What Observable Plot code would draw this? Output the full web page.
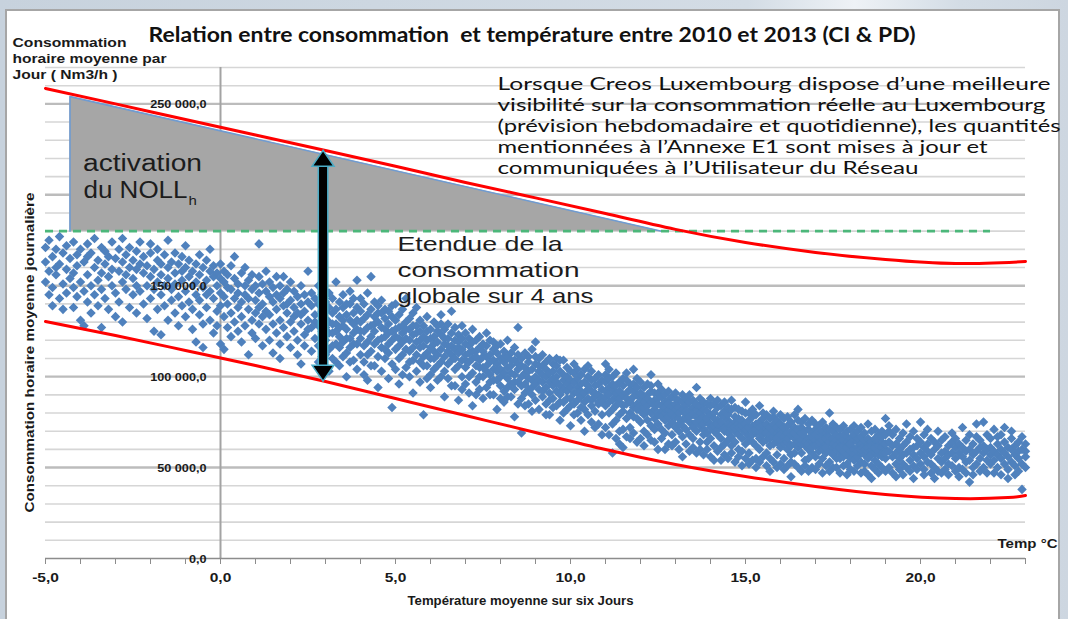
<!DOCTYPE html>
<html><head><meta charset="utf-8">
<script src="https://cdn.jsdelivr.net/npm/d3@7"></script>
<script src="https://cdn.jsdelivr.net/npm/@observablehq/plot@0.6"></script>
<style>
html,body{margin:0;padding:0;background:#fff;}
#wrap{position:relative;width:1068px;height:619px;overflow:hidden;background:linear-gradient(90deg,#c7d2dd 0%,#d3dce5 70%,#eef2f6 80%,#d3dce5 90%,#cdd6e0 100%);}
#box{position:absolute;left:5px;top:9px;width:1051px;height:620px;border:2px solid #a6a6a6;border-bottom:none;background:#fff;}
#chart{position:absolute;left:0;top:0;}
</style></head><body>
<div id="wrap"><div id="box"></div><div id="chart"></div></div>
<script>
// Daily points: [temperature °C, consumption values in thousand Nm3/h ...]
const cloudRows = [
[-5.0,171,152,163],[-4.9,175,158,145],[-4.8,166,149,139],[-4.7,170,156,160],[-4.6,177,162,143],
[-4.5,151,168,137],[-4.4,159,146,172],[-4.3,165,154],[-4.2,174,138,157,149],[-4.1,161,167,144],
[-4.0,170,152,131],[-3.9,163,147,128],[-3.8,156,173,141,166],[-3.7,168,150,135],[-3.6,160,176,145],
[-3.5,153,164,139],[-3.4,171,157,127,148],[-3.3,162,143,169],[-3.2,155,166,137],[-3.1,174,150,159],
[-3.0,165,146,133],[-2.9,158,170,141],[-2.8,152,163,130,176],[-2.7,167,148,156],[-2.6,160,138,171],
[-2.5,154,164,145],[-2.4,169,150,135,159],[-2.3,162,147,174],[-2.2,157,166,140],[-2.1,150,161,132],
[-2.0,168,155,143,173],[-1.9,159,148,125],[-1.8,164,152,137,170],[-1.7,156,145,123,162],[-1.6,167,150,139],
[-1.5,160,154,131,175],[-1.4,148,163,142],[-1.3,157,135,168,151],[-1.2,162,144,128],[-1.1,153,166,139,158],
[-1.0,147,160,133,172],[-0.9,155,141,164],[-0.8,150,126,158,137],[-0.7,162,145,152,119],[-0.6,156,134,167,142],
[-0.5,149,160,129,116],[-0.4,153,138,164,145],[-0.3,158,131,147,170],[-0.2,143,155,124,161],[-0.1,150,136,157,128],
[0.0,146,162,118,139,154],[0.1,152,133,158,115,144],[0.2,140,156,127,149],[0.3,148,135,161,122],[0.4,143,154,130,166],
[0.5,151,138,125,146],[0.6,157,141,133,119],[0.7,145,150,128,160],[0.8,137,153,112,143],[0.9,148,131,156,124],
[1.0,142,150,135,121],[1.1,173,146,129,138,155],[1.2,140,151,117,133],[1.3,147,126,158,136],[1.4,134,144,120,152],
[1.5,141,129,149,113],[1.6,137,155,124,145],[1.7,131,143,110,150,118],[1.8,146,127,139,155],[1.9,135,148,122,140],
[2.0,130,142,116,152],[2.1,138,125,147,133],[2.2,144,120,135,112],[2.3,129,140,107,150,134],[2.4,136,123,145,117],
[2.5,158,131,141,126],[2.6,127,139,114,146],[2.7,134,121,143,130],[2.8,140,117,128,150,108],[2.9,125,136,111,145],
[3.0,132,120,141,127,112,136],[3.1,138,115,130,146,103,124],[3.2,124,135,110,143,129,117],[3.3,152,129,118,137,108,125],
[3.4,133,122,141,106,127,116],[3.5,119,138,128,145,111,131],[3.6,126,113,134,100,140,121],[3.7,131,121,140,116,147,108],
[3.8,124,135,109,129,143,118],[3.9,153,118,138,126,104,131],[4.0,130,112,136,121,143,125],[4.1,125,140,108,132,117,101],
[4.2,119,134,127,146,98,112],[4.3,155,128,114,137,122,106],[4.4,133,106,125,141,118,129],[4.5,120,130,111,139,94,135],
[4.6,127,116,135,103,142,121],[4.7,122,132,110,126,137,115],[4.8,118,129,99,136,113,124],[4.9,125,107,133,83,120,139],
[5.0,131,115,122,140,104,126],[5.1,117,127,96,134,110,121],[5.2,124,112,137,119,128,101],[5.3,130,105,121,143,115,126],
[5.4,114,126,100,132,120,108],[5.5,123,109,135,116,91,128],[5.6,119,128,112,138,103,124],[5.7,125,97,116,131,108,120],
[5.8,111,122,79,128,117,106],[5.9,120,106,133,113,125,99],[6.0,116,126,101,121,94,110],[6.1,122,110,130,114,118,104],
[6.2,112,125,98,119,106,128],[6.3,129,115,108,123,134,100],[6.4,118,103,126,111,89,121],[6.5,114,121,99,129,107,117],
[6.6,136,117,109,124,112,95],[6.7,110,120,95,127,104,115],[6.8,116,106,123,87,113,119],[6.9,121,100,115,128,109,93],
[7.0,112,118,96,124,105,109],[7.1,108,117,91,121,113,100],[7.2,119,102,110,126,84,114],[7.3,114,97,120,106,111,90],
[7.4,105,116,93,122,109,100],[7.5,111,100,118,88,114,105],[7.6,117,106,94,124,103,111],[7.7,101,112,120,97,108,90],
[7.8,109,115,90,104,119,98],[7.9,113,98,107,82,117,103],[8.0,104,110,95,118,100,88],[8.1,108,92,114,102,86,111],
[8.2,99,111,105,120,94,89],[8.3,106,96,113,89,102,109],[8.4,101,109,116,93,78,97],[8.5,127,104,97,112,107,85],
[8.6,95,106,88,110,69,100],[8.7,102,113,96,105,91,84],[8.8,108,99,85,111,103,93],[8.9,94,104,115,98,90,81],
[9.0,119,100,107,87,96,111],[9.1,103,93,110,98,82,106],[9.2,97,106,89,112,101,92],[9.3,104,94,100,85,108,79],
[9.4,91,102,97,110,79,87],[9.5,99,107,88,95,103,83],[9.6,106,92,100,84,97,110],[9.7,95,103,90,109,76,86],
[9.8,109,98,86,101,93,80],[9.9,92,100,96,82,105,88],[10.0,98,88,103,94,73,84],[10.1,102,91,97,85,107,79],
[10.2,94,99,87,104,80,91],[10.3,89,96,101,83,92,76],[10.4,97,86,104,91,70,82],[10.5,93,100,88,95,79,106],
[10.6,87,98,92,103,84,75],[10.7,95,89,99,81,91,72],[10.8,90,96,85,101,74,86],[10.9,98,88,93,79,86,68],
[11.0,107,92,84,97,89,101,72],[11.1,86,94,90,80,99,104,68],[11.2,93,87,58,96,82,100,74],[11.3,89,95,84,91,76,102,66],
[11.4,97,86,92,79,88,70,63],[11.5,84,90,95,81,71,99,61],[11.6,91,85,88,98,77,67,102],[11.7,87,93,80,86,66,96,72],
[11.8,104,89,83,92,78,69,96],[11.9,85,90,77,94,82,64,99],[12.0,88,81,91,75,84,97,66],[12.1,83,89,79,86,70,94,62],
[12.2,90,84,76,88,81,96,68],[12.3,101,86,80,92,73,65,95],[12.4,82,87,77,84,64,91,71],[12.5,88,79,85,74,91,60,96],
[12.6,84,89,81,71,78,93,66],[12.7,80,86,76,83,60,90,69],[12.8,87,82,78,73,85,63,92],[12.9,81,75,84,79,68,89,62],
[13.0,85,78,72,82,88,64,91],[13.1,77,83,80,70,74,87,60],[13.2,82,76,86,73,56,90,67],[13.3,79,84,71,77,81,63,88],
[13.4,75,81,68,86,78,59,90],[13.5,83,74,79,66,72,87,61],[13.6,94,78,82,70,75,85,58],[13.7,73,80,76,64,84,88,60],
[13.8,78,71,82,74,68,86,57],[13.9,81,75,69,77,60,85,64],[14.0,74,79,72,84,66,88,56],[14.1,77,70,80,73,62,85,54],
[14.2,71,76,83,68,74,59,87],[14.3,79,73,66,75,54,84,61],[14.4,72,78,70,81,63,86,57],[14.5,76,69,74,65,79,55,83],
[14.6,82,73,67,71,58,87,62],[14.7,70,75,78,64,72,83,53],[14.8,74,68,72,60,77,82,56],[14.9,71,76,66,73,51,81,59],
[15.0,80,69,74,63,71,86,55],[15.1,67,72,76,65,58,80,52],[15.2,73,70,64,78,68,54,82],[15.3,69,74,62,71,55,79,50],
[15.4,75,66,70,72,60,84,53],[15.5,68,73,64,77,70,56,80],[15.6,71,65,69,58,74,79,51],[15.7,66,72,68,62,48,77,55],
[15.8,74,67,70,63,78,53,81],[15.9,69,64,72,57,66,76,50],[16.0,65,71,68,61,74,52,79],[16.1,70,63,67,55,72,77,49],
[16.2,64,69,73,60,66,51,78],[16.3,68,62,70,57,45,75,53],[16.4,72,66,63,69,52,79,58],[16.5,82,67,61,71,64,50,76],
[16.6,63,69,65,58,72,75,48],[16.7,67,62,70,54,64,77,51],[16.8,60,66,71,63,48,74,55],[16.9,69,64,58,67,61,76,50],
[17.0,65,71,62,56,68,74,49],[17.1,62,67,59,73,64,52,70],[17.2,68,60,65,55,70,75,47],[17.3,63,69,58,66,61,51,72],
[17.4,80,64,59,67,53,71,48],[17.5,66,61,70,57,63,74,50],[17.6,60,65,62,50,68,72,55],[17.7,67,58,64,61,55,71,47],
[17.8,62,68,56,65,59,73,51],[17.9,64,57,61,67,52,70,46],[18.0,59,66,62,55,63,71,49],[18.1,65,60,57,68,54,73,48],
[18.2,61,56,64,59,66,51,70],[18.3,58,63,60,53,67,72,47],[18.4,62,57,65,48,60,69,52],[18.5,66,59,55,63,61,74,46],
[18.6,60,64,57,62,44,70,51],[18.7,63,58,61,54,66,71,49],[18.8,57,62,59,65,52,68,47],[18.9,61,56,64,58,70,50,67],
[19.0,77,60,55,63,58,68,48],[19.1,59,70,50,64,73],[19.2,62,47,56,68],[19.3,52,63,58,71,45],
[19.4,66,55,49,60],[19.5,57,69,62,46,52],[19.6,64,50,58,74],[19.7,54,67,60,48],
[19.8,61,51,70,57,44],[19.9,66,55,49,62],[20.0,58,75,52,64],[20.1,49,61,56,68,46],
[20.2,63,53,59,71],[20.3,47,57,66,52],[20.4,60,50,64,44],[20.5,70,55,48,62],
[20.6,53,65,58,47],[20.7,59,49,67,55],[20.8,46,62,52,57],[20.9,64,51,58,69],
[21.0,55,66,48,61],[21.1,50,58,63,45],[21.2,72,56,61,49],[21.3,53,65,47,59],
[21.4,60,42,54,68],[21.5,57,63,50,46],[21.6,67,52,59,74],[21.7,48,61,55,65],
[21.8,75,58,50,62],[21.9,54,68,47,60],[22.0,61,52,66,57],[22.1,47,59,71,54],
[22.2,63,50,57,67],[22.3,68,55,46,60],[22.4,72,58,52,64],[22.5,44,61,56,49],
[22.6,66,53,60,70],[22.7,51,62,57,46],[22.8,64,55,48,59],[22.9,38,60,52,67],[23.0,56,63,50,59]
];
// Red envelope curves (thousand Nm3/h)
const upperT = [-5,-3,-1,1,3,5,7,9,11,13,15,17,19,21,23];
const upperV = [258.5,250,241.4,232.9,224.4,215.7,206.8,198.3,189.7,181,173.8,168.3,164.4,162.2,163.3];
const lowerT = [-5,-3,-1,1,3,5,7,9,11,13,15,17,19,21,22.5,23];
const lowerV = [130.3,122.6,114.4,106.1,97.3,88,78.6,69.3,59.9,51.7,45.1,39.6,35.2,33,33.5,34.6];
// Grey NOLL activation zone
const zoneT = [-4.3,-4.3,12.6];
const zoneV = [180,254,180];
// Green dashed threshold
const thresholdV = 180;
const thresholdT = [-5,22];
// Double arrow (range of consumption)
const arrowT = 2.93;
const arrowV = [97.5,224.5];
// Axes
const xTicks = [-5,0,5,10,15,20];
const xTickLabels = ["-5,0","0,0","5,0","10,0","15,0","20,0"];
const yTicks = [0,50,100,150,200,250];
const yTickLabels = ["0,0","50 000,0","100 000,0","150 000,0","200 000,0","250 000,0"];
const yMax = 270;

const cloud = cloudRows.flatMap(([t, ...vs]) => vs.map(v => ({t, v})));
const upper = upperT.map((t, i) => ({t, v: upperV[i]}));
const lower = lowerT.map((t, i) => ({t, v: lowerV[i]}));
const zone = zoneT.map((t, i) => ({t, v: zoneV[i]}));
const zoneArea = [{t: zoneT[1], lo: zoneV[0], hi: zoneV[1]}, {t: zoneT[2], lo: zoneV[2], hi: zoneV[2]}];

const arrowUp = {draw(ctx){ctx.moveTo(0,0);ctx.lineTo(11,16);ctx.lineTo(-11,16);ctx.closePath();}};
const arrowDown = {draw(ctx){ctx.moveTo(0,0);ctx.lineTo(11,-16);ctx.lineTo(-11,-16);ctx.closePath();}};

const SANS = "Liberation Sans, Arial, sans-serif";
const CAL = "Lato, Carlito, sans-serif";
const note = (txt, dx, dy, o = {}) => Plot.text([txt], {frameAnchor: "top-left", dx, dy, text: d => d,
  textAnchor: "start", lineAnchor: "middle", fontFamily: SANS, fill: "#1a1a1a", ...o});

const plot = Plot.plot({
  width: 1068, height: 619,
  marginLeft: 45, marginRight: 43, marginTop: 67, marginBottom: 61,
  style: {background: "transparent", overflow: "visible"},
  x: {domain: [-5, 23], axis: null},
  y: {domain: [0, yMax], axis: null},
  marks: [
    Plot.ruleY(d3.range(10, yMax + 1, 10).filter(d => d % 50), {x1: -5, x2: 23, stroke: "#d6d6d6", strokeWidth: 1.6}),
    Plot.ruleY(yTicks.filter(d => d > 0), {x1: -5, x2: 23, stroke: "#bcbcbc", strokeWidth: 2.4}),
    Plot.ruleX([0], {y1: 0, y2: yMax, stroke: "#a3a3a3", strokeWidth: 2}),
    Plot.ruleY([0], {x1: -5, x2: 23, stroke: "#8c8c8c", strokeWidth: 1.5}),
    Plot.axisX(d3.range(-5, 24), {tickSize: 6, tickFormat: () => "", stroke: "#8c8c8c", label: null}),
    Plot.text(xTicks, {x: d => d, y: 0, text: (d, i) => xTickLabels[i], dy: 19, lineAnchor: "middle",
      fontFamily: SANS, fontSize: 13.5, fontWeight: "bold", fill: "#1a1a1a"}),
    Plot.dot(cloud, {x: "t", y: "v", symbol: "diamond2", r: 4.3, fill: "#4f81bd"}),
    Plot.text(yTicks, {x: 0, y: d => d, text: (d, i) => yTickLabels[i], dx: -14, dy: 1, textAnchor: "end",
      lineAnchor: "middle", fontFamily: SANS, fontSize: 11, fontWeight: "bold", fill: "#1a1a1a"}),
    Plot.areaY(zoneArea, {x: "t", y1: "lo", y2: "hi", fill: "#a6a6a6"}),
    Plot.line(zone, {x: "t", y: "v", stroke: "#6f9bd1", strokeWidth: 1.6}),
    Plot.ruleY([thresholdV], {x1: thresholdT[0], x2: thresholdT[1], stroke: "#4cb77a", strokeWidth: 2.6, strokeDasharray: "8,6"}),
    Plot.line(upper, {x: "t", y: "v", curve: "natural", stroke: "#ff0000", strokeWidth: 3}),
    Plot.line(lower, {x: "t", y: "v", curve: "natural", stroke: "#ff0000", strokeWidth: 3}),
    Plot.ruleX([arrowT], {y1: arrowV[0] + 6, y2: arrowV[1] - 6, stroke: "#4bacc6", strokeWidth: 11}),
    Plot.ruleX([arrowT], {y1: arrowV[0] + 6, y2: arrowV[1] - 6, stroke: "#000", strokeWidth: 8}),
    Plot.dot([arrowV[1]], {x: () => arrowT, y: d => d, symbol: arrowUp, fill: "#000", stroke: "#4bacc6", strokeWidth: 1.5}),
    Plot.dot([arrowV[0]], {x: () => arrowT, y: d => d, symbol: arrowDown, fill: "#000", stroke: "#4bacc6", strokeWidth: 1.5}),
    // texts
    note("Relation entre consommation  et température entre 2010 et 2013 (CI & PD)", 486.5, -32,
      {textAnchor: "middle", fontFamily: CAL, fontSize: 20.5, fontWeight: "bold", fill: "#111"}),
    note("Consommation", -33, -25, {fontSize: 13, fontWeight: "bold"}),
    note("horaire moyenne par", -33, -9, {fontSize: 13, fontWeight: "bold"}),
    note("Jour ( Nm3/h )", -33, 7, {fontSize: 13, fontWeight: "bold"}),
    note("Lorsque Creos Luxembourg dispose d’une meilleure", 452, 17, {fontFamily: CAL, fontSize: 17.5, fill: "#111"}),
    note("visibilité sur la consommation réelle au Luxembourg", 452, 38, {fontFamily: CAL, fontSize: 17.5, fill: "#111"}),
    note("(prévision hebdomadaire et quotidienne), les quantités", 452, 59, {fontFamily: CAL, fontSize: 17.5, fill: "#111"}),
    note("mentionnées à l’Annexe E1 sont mises à jour et", 452, 80, {fontFamily: CAL, fontSize: 17.5, fill: "#111"}),
    note("communiquées à l’Utilisateur du Réseau", 452, 101, {fontFamily: CAL, fontSize: 17.5, fill: "#111"}),
    note("activation", 37.5, 96, {fontSize: 23, fill: "#1c1c1c"}),
    note("du NOLL", 38, 123, {fontSize: 23, fill: "#1c1c1c"}),
    note("h", 143, 133, {fontSize: 13, fill: "#1c1c1c"}),
    note("Etendue de la", 352, 177, {fontSize: 21, fill: "#1c1c1c"}),
    note("consommation", 352, 203, {fontSize: 21, fill: "#1c1c1c"}),
    note("globale sur 4 ans", 352, 229, {fontSize: 21, fill: "#1c1c1c"}),
    note("Consommation horaire moyenne journalière", -16, 285, {rotate: -90, textAnchor: "middle", fontSize: 13, fontWeight: "bold"}),
    note("Température moyenne sur six Jours", 475, 533, {textAnchor: "middle", fontSize: 12.5, fontWeight: "bold"}),
    note("Temp °C", 952, 476, {fontSize: 12.5, fontWeight: "bold"})
  ]
});

document.getElementById("chart").append(plot);

const targets = new Map([
  ["Relation entre consommation  et température entre 2010 et 2013 (CI & PD)", 767],
  ["Consommation", 114], ["horaire moyenne par", 154], ["Jour ( Nm3/h )", 105],
  ["Lorsque Creos Luxembourg dispose d’une meilleure", 553],
  ["visibilité sur la consommation réelle au Luxembourg", 548],
  ["(prévision hebdomadaire et quotidienne), les quantités", 563],
  ["mentionnées à l’Annexe E1 sont mises à jour et", 490],
  ["communiquées à l’Utilisateur du Réseau", 421],
  ["activation", 119], ["du NOLL", 104],
  ["Etendue de la", 165], ["consommation", 182], ["globale sur 4 ans", 196],
  ["Consommation horaire moyenne journalière", 320],
  ["Température moyenne sur six Jours", 226], ["Temp °C", 60]
]);
plot.querySelectorAll("text").forEach(t => {
  if (t.querySelector("tspan")) return;
  const s = t.textContent;
  if (!s || !s.trim()) return;
  const natural = t.getComputedTextLength();
  const target = targets.has(s) ? targets.get(s) : natural * 1.15;
  t.setAttribute("textLength", target);
  t.setAttribute("lengthAdjust", "spacingAndGlyphs");
});
</script></body></html>
